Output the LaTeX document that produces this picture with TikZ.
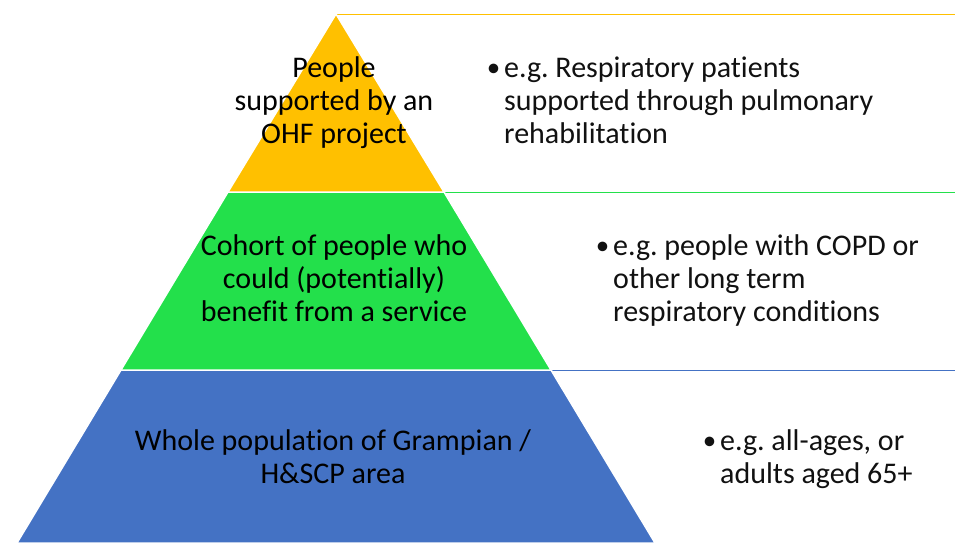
\documentclass[tikz,border=0pt]{standalone}
\usepackage{fontspec}
\setmainfont[Ligatures={NoCommon,NoRare,NoContextual}]{Carlito}
\frenchspacing
\definecolor{ohfyellow}{HTML}{FFC000}
\definecolor{ohfgreen}{HTML}{23E04B}
\definecolor{ohfblue}{HTML}{4472C4}
\definecolor{txt}{HTML}{111111}
\tikzset{
  layer/.style={draw=white, line width=1.5pt, line join=miter},
  sepline/.style={line width=1pt},
  pyrtext/.style={align=center, anchor=base, inner sep=0pt, text=black,
    font=\fontsize{30}{33}\selectfont},
  bultext/.style={align=left, anchor=base west, inner sep=0pt, text=txt,
    font=\fontsize{30}{33}\selectfont},
}
\newcommand{\bul}{\llap{\raisebox{1pt}{\scalebox{0.9}{•}}\hspace{4pt}}}
\begin{document}
\begin{tikzpicture}[x=1pt,y=-1pt]
\useasboundingbox (0,0) rectangle (955,542);
\fill[white] (0,0) rectangle (955,542);
% right separator lines
\coordinate (apex) at (336,14);
\coordinate (yr) at (955,14);
\coordinate (g1) at (444,192);
\coordinate (gr) at (955,192);
\coordinate (b1) at (551,370);
\coordinate (br) at (955,370);
\draw[sepline, ohfyellow] (apex) -- (yr);
\draw[sepline, ohfgreen] (g1) -- (gr);
\draw[sepline, ohfblue] (b1) -- (br);
% pyramid layers
\fill[ohfblue, layer] (121,370) -- (551,370) -- (655,543) -- (17,543) -- cycle;
\fill[ohfgreen, layer] (228,192) -- (444,192) -- (551,370) -- (121,370) -- cycle;
\fill[ohfyellow, layer] (336,14) -- (444,192) -- (228,192) -- cycle;
% pyramid texts (anchor = baseline of last line)
\node[pyrtext] (t1) at (334,143) {People\\supported by an\\OHF project};
\node[pyrtext] (t2) at (334,321) {Cohort of people who\\could (potentially)\\benefit from a service};
\node[pyrtext] (t3) at (333,483) {Whole population of Grampian /\\H\&SCP area};
% bullet texts
\node[bultext] (r1) at (504,143) {\bul e.g. Respiratory patients\\supported through pulmonary\\rehabilitation};
\node[bultext] (r2) at (613,321) {\bul e.g. people with COPD or\\other long term\\respiratory conditions};
\node[bultext] (r3) at (720,483) {\bul e.g. all-ages, or\\adults aged 65+};
\end{tikzpicture}
\end{document}
